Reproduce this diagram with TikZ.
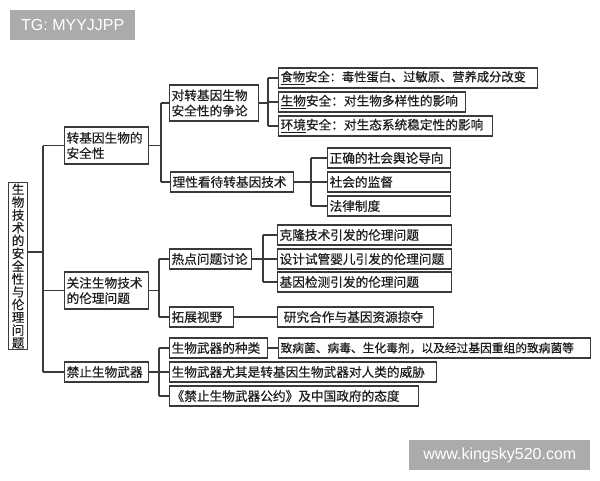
\documentclass[tikz,border=0pt]{standalone}
\usepackage{fontspec}
\newfontfamily\cjkfont[FakeBold=0.6]{Noto Sans CJK SC}
\newfontfamily\tagfont{Liberation Sans}
\definecolor{linec}{HTML}{3A3A3A}
\definecolor{textc}{HTML}{1E1E1E}
\definecolor{tagc}{HTML}{ABABAB}
\tikzset{
  box/.style={draw=linec, line width=0.9pt, anchor=west, align=left, inner xsep=1.5pt, inner ysep=0pt,
    minimum height=15pt, text=textc, font=\fontsize{9.5}{11.5}\selectfont\cjkfont},
  smallbox/.style={box, font=\fontsize{8.8}{10.5}\selectfont\cjkfont},
  tag/.style={fill=tagc, text=white, anchor=north west, inner sep=0pt, font=\fontsize{12}{14}\selectfont\tagfont},
  conn/.style={draw=linec, line width=0.9pt}
}
\begin{document}
\begin{tikzpicture}[x=0.75pt,y=0.75pt,yscale=-1,xscale=1]
\useasboundingbox (0,0) rectangle (600,480);

% Watermarks
\node[tag, minimum width=93.75pt, minimum height=22.5pt] (tg) at (10,10) {TG: MYYJJPP};
\node[tag, minimum width=135.75pt, minimum height=22.5pt] (site) at (409,440) {www.kingsky520.com};

% Text Node (root)
\node[draw=linec, line width=0.9pt, anchor=north west, inner sep=0pt, align=center, text=textc,
  minimum width=14.25pt, minimum height=125.25pt, font=\fontsize{9.4}{9.6}\selectfont\cjkfont] (root) at (8,182)
  {生\\物\\技\\术\\的\\安\\全\\性\\与\\伦\\理\\问\\题};

% Text Node (first level)
\node[box, text width=60pt, minimum height=27.75pt] (safe) at (64,145.5) {转基因生物的\\安全性};
\node[box, text width=60pt, minimum height=27.75pt] (ethic) at (64,290.5) {关注生物技术\\的伦理问题};
\node[box, text width=60pt] (ban) at (64,372) {禁止生物武器};

% Text Node (second level)
\node[box, text width=63.75pt, minimum height=27pt] (debate) at (169,103) {对转基因生物\\安全性的争论};
\node[box, text width=89.25pt] (rational) at (170,182) {理性看待转基因技术};
\node[box, text width=58.5pt] (hot) at (169,259) {热点问题讨论};
\node[box, text width=45pt] (view) at (169,317) {拓展视野};
\node[box, text width=70.5pt] (kind) at (169,348) {生物武器的种类};
\node[box, text width=197.25pt] (threat) at (169,372) {生物武器尤其是转基因生物武器对人类的威胁};
\node[box, text width=183.75pt] (treaty) at (169,396) {《禁止生物武器公约》及中国政府的态度};

% Text Node (third level)
\node[box, text width=191.25pt, font=\fontsize{9.2}{11}\selectfont\cjkfont] (food) at (278,78) {\underline{食物}安全：毒性蛋白、过敏原、营养成分改变};
\node[box, text width=137.25pt] (bio) at (278,102) {\underline{生物}安全：对生物多样性的影响};
\node[box, text width=157.5pt] (env) at (278,126) {\underline{环境}安全：对生态系统稳定性的影响};
\node[box, text width=89.25pt] (opinion) at (327,158) {正确的社会舆论导向};
\node[box, text width=89.25pt] (supervise) at (327,182) {社会的监督};
\node[box, text width=89.25pt] (law) at (327,206) {法律制度};
\node[box, text width=127.5pt] (clone) at (277,235) {克隆技术引发的伦理问题};
\node[box, text width=127.5pt] (ivf) at (277,259) {设计试管婴儿引发的伦理问题};
\node[box, text width=127.5pt] (gene) at (277,282) {基因检测引发的伦理问题};
\node[box, text width=114pt] (loot) at (277,317) {\ 研究合作与基因资源掠夺};
\node[smallbox, text width=231pt] (agent) at (278,348) {致病菌、病毒、生化毒剂，以及经过基因重组的致病菌等};

% Bracket points
\coordinate (b0) at (43,252);
\coordinate (b1) at (161,0);
\coordinate (b2) at (268,0);
\coordinate (b3) at (311,0);
\coordinate (b4) at (159,0);
\coordinate (b5) at (263,0);
\coordinate (b6) at (159,0);

%Straight Lines (root)
\draw[conn] (root.east |- b0) -- (b0);
\draw[conn] (b0 |- safe.west) -- (b0 |- ban.west);
\draw[conn] (b0 |- safe.west) -- (safe.west);
\draw[conn] (b0 |- ethic.west) -- (ethic.west);
\draw[conn] (b0 |- ban.west) -- (ban.west);

%Straight Lines (safety)
\draw[conn] (safe.east) -- (b1 |- safe.east);
\draw[conn] (b1 |- debate.west) -- (b1 |- rational.west);
\draw[conn] (b1 |- debate.west) -- (debate.west);
\draw[conn] (b1 |- rational.west) -- (rational.west);

\draw[conn] (debate.east) -- (b2 |- debate.east);
\draw[conn] (b2 |- food.west) -- (b2 |- env.west);
\draw[conn] (b2 |- food.west) -- (food.west);
\draw[conn] (b2 |- bio.west) -- (bio.west);
\draw[conn] (b2 |- env.west) -- (env.west);

\draw[conn] (rational.east) -- (supervise.west);
\draw[conn] (b3 |- opinion.west) -- (b3 |- law.west);
\draw[conn] (b3 |- opinion.west) -- (opinion.west);
\draw[conn] (b3 |- law.west) -- (law.west);

%Straight Lines (ethics)
\draw[conn] (ethic.east) -- (b4 |- ethic.east);
\draw[conn] (b4 |- hot.west) -- (b4 |- view.west);
\draw[conn] (b4 |- hot.west) -- (hot.west);
\draw[conn] (b4 |- view.west) -- (view.west);

\draw[conn] (hot.east) -- (ivf.west);
\draw[conn] (b5 |- clone.west) -- (b5 |- gene.west);
\draw[conn] (b5 |- clone.west) -- (clone.west);
\draw[conn] (b5 |- gene.west) -- (gene.west);

\draw[conn] (view.east) -- (loot.west);

%Straight Lines (weapons)
\draw[conn] (ban.east) -- (threat.west);
\draw[conn] (b6 |- kind.west) -- (b6 |- treaty.west);
\draw[conn] (b6 |- kind.west) -- (kind.west);
\draw[conn] (b6 |- treaty.west) -- (treaty.west);

\draw[conn] (kind.east) -- (agent.west);

\end{tikzpicture}
\end{document}
